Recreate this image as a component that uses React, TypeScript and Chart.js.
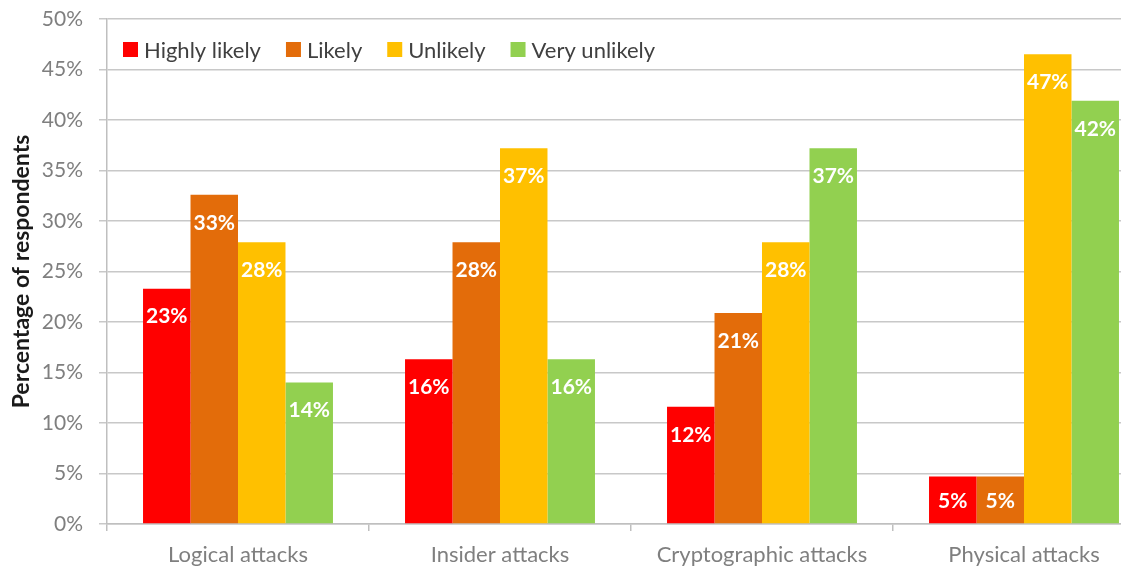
import React, { useEffect, useRef } from "react";
import { Chart, registerables } from "chart.js";

Chart.register(...registerables);

const categories = ["Logical attacks", "Insider attacks", "Cryptographic attacks", "Physical attacks"];
const highlyLikely = [23.3, 16.3, 11.6, 4.7];
const likely = [32.6, 27.9, 20.9, 4.7];
const unlikely = [27.9, 37.2, 27.9, 46.5];
const veryUnlikely = [14.0, 16.3, 37.2, 41.9];
const seriesNames = ["Highly likely", "Likely", "Unlikely", "Very unlikely"];
const seriesColors = ["#FF0000", "#E36C0A", "#FFC000", "#92D050"];
const yTicks = [0, 5, 10, 15, 20, 25, 30, 35, 40, 45, 50];

const FONT = "Lato, 'Open Sans', sans-serif";

const valueLabels = {
  id: "valueLabels",
  afterDatasetsDraw(chart: any) {
    const ctx = chart.ctx;
    ctx.save();
    ctx.font = `bold 21px ${FONT}`;
    ctx.fillStyle = "#FFFFFF";
    ctx.textAlign = "center";
    ctx.textBaseline = "middle";
    chart.data.datasets.forEach((ds: any, i: number) => {
      const meta = chart.getDatasetMeta(i);
      meta.data.forEach((el: any, j: number) => {
        const h = el.base - el.y;
        const cy = el.y + Math.min(28, h / 2 + 1.5);
        ctx.fillText(Math.round(ds.data[j]) + "%", el.x, cy);
      });
    });
    ctx.restore();
  },
};

const insideLegend = {
  id: "insideLegend",
  afterDraw(chart: any) {
    const ctx = chart.ctx;
    const area = chart.chartArea;
    ctx.save();
    ctx.font = `22px ${FONT}`;
    ctx.textBaseline = "middle";
    ctx.textAlign = "left";
    let x = area.left + 16;
    const cy = area.top + 30.5;
    const box = 15;
    chart.data.datasets.forEach((ds: any) => {
      ctx.fillStyle = ds.backgroundColor;
      ctx.fillRect(x, cy - box / 2, box, box);
      x += box + 6;
      ctx.fillStyle = "#404040";
      ctx.fillText(ds.label, x, cy + 1);
      x += ctx.measureText(ds.label).width + 25;
    });
    ctx.restore();
  },
};

export default function App() {
  const ref = useRef<HTMLCanvasElement | null>(null);
  useEffect(() => {
    if (!ref.current) return;
    const seriesData = [highlyLikely, likely, unlikely, veryUnlikely];
    const chart = new Chart(ref.current, {
      type: "bar",
      data: {
        labels: categories,
        datasets: seriesData.map((d, i) => ({
          label: seriesNames[i],
          data: d,
          backgroundColor: seriesColors[i],
          borderWidth: 0,
          categoryPercentage: 0.725,
          barPercentage: 1.0,
        })),
      },
      plugins: [valueLabels, insideLegend],
      options: {
        animation: false,
        responsive: true,
        maintainAspectRatio: false,
        layout: { padding: { top: 19, right: 0, left: 0, bottom: 0 } },
        plugins: {
          legend: { display: false },
          tooltip: { enabled: false },
        },
        scales: {
          x: {
            grid: {
              display: true,
              drawOnChartArea: false,
              drawTicks: true,
              tickLength: 7,
              offset: true,
              color: "#bfbfbf",
              lineWidth: 1.5,
            },
            border: { display: true, color: "#bfbfbf", width: 1.5 },
            ticks: {
              font: { family: FONT, size: 22 },
              color: "#7f7f7f",
              padding: 11,
              maxRotation: 0,
            },
            afterFit: (s: any) => {
              s.height = 48;
              s.paddingLeft = 0;
              s.paddingRight = 0;
            },
          },
          y: {
            min: 0,
            max: 50,
            afterBuildTicks: (s: any) => {
              s.ticks = yTicks.map((v) => ({ value: v }));
            },
            grid: {
              color: "#c8c8c8",
              lineWidth: 1.5,
              drawTicks: true,
              tickLength: 8,
            },
            border: { display: true, color: "#bfbfbf", width: 1.5 },
            ticks: {
              font: { family: FONT, size: 21 },
              color: "#7f7f7f",
              padding: 16,
              callback: (v: any) => v + "%",
            },
            title: {
              display: true,
              text: "Percentage of respondents",
              font: { family: FONT, size: 23, weight: "bold" },
              color: "#1a1a1a",
              padding: { top: 8, bottom: 0 },
            },
            afterFit: (s: any) => {
              s.width = 107;
              s.paddingTop = 0;
              s.paddingBottom = 0;
            },
          },
        },
      },
    });
    return () => chart.destroy();
  }, []);
  return (
    <div style={{ position: "fixed", left: 0, top: 0, width: 1121, height: 572, overflow: "hidden", background: "#fff" }}>
      <div style={{ position: "relative", width: 1155, height: 572 }}>
        <canvas ref={ref} />
      </div>
    </div>
  );
}
